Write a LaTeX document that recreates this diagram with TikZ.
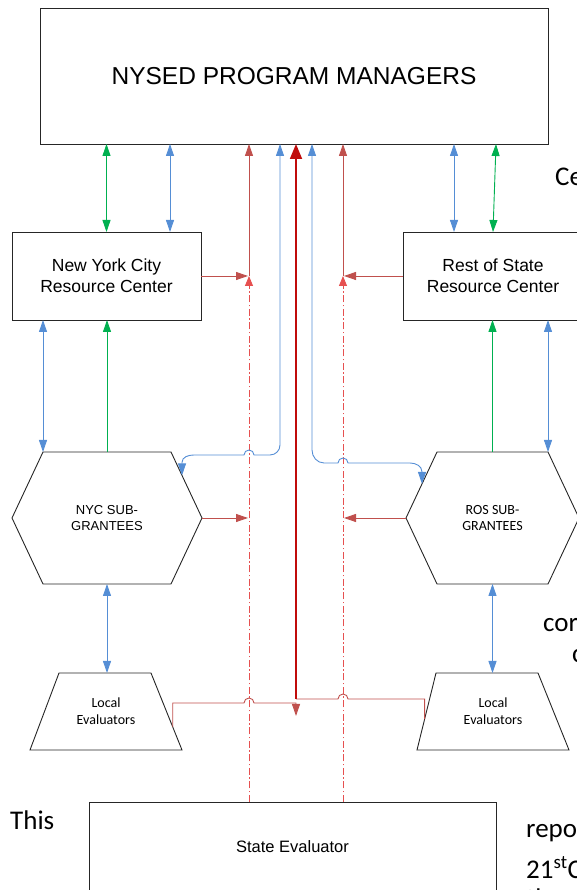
\documentclass[tikz,border=0pt]{standalone}
\usepackage{fontspec}
\setmainfont{Liberation Sans}
\newfontfamily\calibri{Carlito}
\usetikzlibrary{arrows.meta,calc}

\definecolor{arrblue}{HTML}{558ED5}
\definecolor{arrgreen}{HTML}{00B050}
\definecolor{arrred}{HTML}{C0504D}
\definecolor{darkred}{HTML}{C00000}
\definecolor{evalred}{RGB}{230,80,80}

\tikzset{
  box/.style={draw=black!85, line width=0.9pt, rectangle, align=center, inner sep=0pt, outer sep=0pt},
  holder/.style={rectangle, align=center, inner sep=0pt, outer sep=0pt},
  outline/.style={draw=black!85, line width=0.9pt},
  bluelink/.style={arrblue, line width=0.9pt},
  greenlink/.style={arrgreen, line width=0.9pt},
  redlink/.style={arrred, line width=0.9pt},
  thickred/.style={darkred!85!arrred, line width=1.8pt},
  evalline/.style={evalred, line width=0.9pt, dash pattern=on 7pt off 2.5pt on 1.5pt off 2.5pt},
  bgtext/.style={font=\calibri\fontsize{27}{32}\selectfont, inner sep=0pt, anchor=base west}
}

\begin{document}
\begin{tikzpicture}[x=1pt, y=1pt, >={Triangle[length=12pt,width=8pt]}]
\useasboundingbox (0,0) rectangle (577,890);
\clip (0,0) rectangle (577,890);

% boxes
\node[box, minimum width=508pt, minimum height=136pt, font=\fontsize{24.5}{28}\selectfont] (nysed) at (294,814) {NYSED PROGRAM MANAGERS};
\node[box, minimum width=189pt, minimum height=88pt, font=\fontsize{17.5}{21}\selectfont] (nycrc) at (106.5,614) {New York City\\Resource Center};
\node[box, minimum width=180pt, minimum height=88pt, font=\fontsize{17.5}{21}\selectfont] (rosrc) at (493,614) {Rest of State\\Resource Center};
\node[box, minimum width=407pt, minimum height=90pt, font=\fontsize{16.5}{20}\selectfont] (steval) at (292.5,43) {State Evaluator};

% sub-grantees (hexagons)
\node[holder, minimum width=190pt, minimum height=132pt, font=\fontsize{13}{16.5}\selectfont] (nycsub) at (107,372) {NYC SUB-\\GRANTEES};
\draw[outline] (nycsub.west) -- ([xshift=31pt]nycsub.north west) -- ([xshift=-31pt]nycsub.north east) -- (nycsub.east)
  -- ([xshift=-31pt]nycsub.south east) -- ([xshift=31pt]nycsub.south west) -- cycle;
\node[holder, minimum width=173pt, minimum height=132pt, font=\calibri\fontsize{14}{16}\selectfont] (rossub) at (492.5,372) {ROS SUB-\\GRANTEES};
\draw[outline] (rossub.west) -- ([xshift=31pt]rossub.north west) -- ([xshift=-31pt]rossub.north east) -- (rossub.east)
  -- ([xshift=-31pt]rossub.south east) -- ([xshift=31pt]rossub.south west) -- cycle;

% local evaluators (trapezoids)
\node[holder, minimum width=152pt, minimum height=77pt, font=\calibri\fontsize{14}{17}\selectfont] (loceL) at (106,178.5) {Local\\Evaluators};
\draw[outline] (loceL.south west) -- ([xshift=29pt]loceL.north west) -- ([xshift=-31pt]loceL.north east) -- (loceL.south east) -- cycle;
\node[holder, minimum width=152pt, minimum height=77pt, font=\calibri\fontsize{14}{17}\selectfont] (loceR) at (493,178.5) {Local\\Evaluators};
\draw[outline] (loceR.south west) -- ([xshift=19pt]loceR.north west) -- ([xshift=-31pt]loceR.north east) -- (loceR.south east) -- cycle;

\coordinate (lj) at (249,614);
\coordinate (rj) at (343,614);
\coordinate (nycin) at ($([xshift=-31pt]nycsub.north east)!0.355!(nycsub.east)$);
\coordinate (rosin) at ($([xshift=31pt]rossub.north west)!0.484!(rossub.west)$);
\coordinate (lefrom) at ($([xshift=-31pt]loceL.north east)!0.7!(loceL.south east)$);
\coordinate (rifrom) at ($([xshift=19pt]loceR.north west)!0.6!(loceR.south west)$);
\coordinate (rmeet) at (296,191);

% program managers <-> resource centers
\draw[greenlink,<->] (nycrc.north |- nysed.south) -- (nycrc.north);
\draw[bluelink,<->] ([xshift=63.5pt]nycrc.north |- nysed.south) -- ([xshift=63.5pt]nycrc.north);
\draw[bluelink,<->] ([xshift=-39pt]rosrc.north |- nysed.south) -- ([xshift=-39pt]rosrc.north);
\draw[greenlink,<->] ([xshift=3pt]rosrc.north |- nysed.south) -- (rosrc.north);

% resource centers <-> sub-grantees
\draw[bluelink,<->] ([xshift=-63.5pt]nycrc.south) -- ([xshift=-63.5pt]nycrc.south |- nycsub.north);
\draw[greenlink,->] (nycsub.north) -- (nycsub.north |- nycrc.south);
\draw[greenlink,->] (rossub.north) -- (rossub.north |- rosrc.south);
\draw[bluelink,<->] ([xshift=55pt]rosrc.south) -- ([xshift=55pt]rosrc.south |- rossub.north);

% sub-grantees <-> local evaluators
\draw[bluelink,<->] (nycsub.south) -- (nycsub.south |- loceL.north);
\draw[bluelink,<->] (rossub.south) -- (rossub.south |- loceR.north);

% red reporting lines
\draw[redlink,->] (nycrc.east) -- ([xshift=-1pt]lj);
\draw[redlink,->] (lj) -- (lj |- nysed.south);
\draw[evalline,-{Triangle[length=10pt,width=8pt]}] (lj |- steval.north) -- (lj);
\draw[redlink,->] (rosrc.west) -- ([xshift=1pt]rj);
\draw[redlink,->] (rj) -- (rj |- nysed.south);
\draw[evalline,-{Triangle[length=10pt,width=8pt]}] (rj |- steval.north) -- (rj);
\draw[redlink,->] (nycsub.east) -- ([xshift=-1pt]lj |- nycsub.east);
\draw[redlink,->] (rossub.west) -- ([xshift=1pt]rj |- rossub.west);

% blue lines to the sub-grantees
\draw[bluelink,<->] ([xshift=-14pt]nysed.south) -- (280,445) to[out=-90,in=0] (270,435) -- (254,435)
  arc[start angle=0,end angle=180,radius=5] -- (194,435) to[out=180,in=90] ([yshift=13pt]nycin) -- (nycin);
\draw[bluelink,<->] ([xshift=18pt]nysed.south) -- (312,440) to[out=-90,in=180] (324,427) -- (338,427)
  arc[start angle=180,end angle=0,radius=5] -- (410,427) to[out=0,in=90] ([yshift=12pt]rosin) -- (rosin);

% local evaluators to program managers
\draw[redlink,->] (lefrom) |- (244,187) arc[start angle=180,end angle=0,radius=5] -- (296,187) -- (296,174);
\draw[redlink] (rifrom) |- (348,191) arc[start angle=0,end angle=180,radius=5] -- (rmeet);
\draw[thickred,-{Triangle[length=15pt,width=12pt]}] (rmeet) -- ([xshift=2pt]nysed.south);

% page text around the figure
\node[bgtext] (tce) at (555,704) {Ce};
\node[bgtext] (tcor) at (543,258) {cor};
\node[bgtext] (tc) at (572,227) {c};
\node[bgtext] (tthis) at (10,60) {This};
\node[bgtext] (trepo) at (526,52) {repo};
\node[bgtext] (tcent) at (526,12) {21\textsuperscript{st}C};
\node[bgtext] (tth) at (526,-17) {th};
\end{tikzpicture}
\end{document}
